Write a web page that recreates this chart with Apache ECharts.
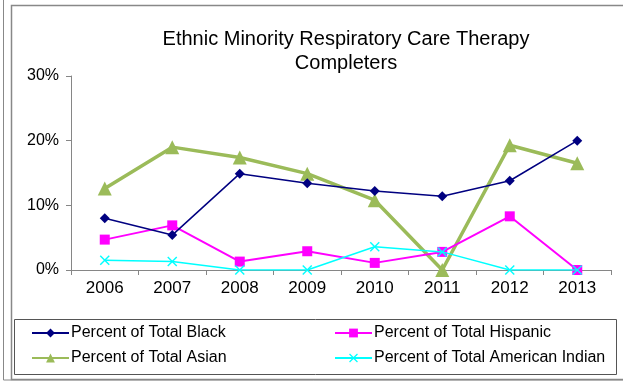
<!DOCTYPE html>
<html><head><meta charset="utf-8">
<script src="https://cdn.jsdelivr.net/npm/echarts@6/dist/echarts.min.js"></script>
<style>html,body{margin:0;padding:0;background:#fff}#c{width:623px;height:381px}</style>
</head><body><div id="c"></div>
<script>
var years = ['2006','2007','2008','2009','2010','2011','2012','2013'];
var black = [8.0, 5.4, 14.9, 13.4, 12.2, 11.4, 13.8, 20.0];
var hispanic = [4.7, 6.9, 1.3, 2.9, 1.1, 2.8, 8.3, 0];
var asian = [12.6, 19.0, 17.4, 14.9, 10.8, 0, 19.3, 16.5];
var amIndian = [1.5, 1.3, 0, 0, 3.6, 2.8, 0, 0];
var yTicks = [0, 10, 20, 30];

var FONT = '"Liberation Sans", Arial, sans-serif';
var crossPath = 'path://M0,1L1,0L5,4L9,0L10,1L6,5L10,9L9,10L5,6L1,10L0,9L4,5Z';
var legendText = {fontFamily: FONT, fontSize: 16, color: '#000', padding: [0,0,0,-3]};
var chart = echarts.init(document.getElementById('c'));
chart.setOption({
  animation: false,
  backgroundColor: '#fff',
  title: {
    text: 'Ethnic Minority Respiratory Care Therapy\nCompleters',
    left: 341, top: 22, textAlign: 'center',
    textStyle: {fontFamily: FONT, fontSize: 20, fontWeight: 'normal', color: '#000', lineHeight: 24}
  },
  graphic: [
    {type: 'rect', shape: {x: 3.5, y: -5, width: 700, height: 385}, style: {fill: 'none', stroke: '#888', lineWidth: 1}, silent: true, z: -1},
    {type: 'rect', shape: {x: 11.5, y: 5.5, width: 700, height: 374}, style: {fill: 'none', stroke: '#888', lineWidth: 1.5}, silent: true, z: -1},
    {type: 'rect', shape: {x: 14.5, y: 319.5, width: 602, height: 55}, style: {fill: 'none', stroke: '#555', lineWidth: 1}, silent: true, z: -1}
  ],
  legend: [
    {data: ['Percent of Total Black', 'Percent of Total Asian'], orient: 'vertical', left: 26, top: 320, itemGap: 9,
     itemWidth: 37, itemHeight: 11, textStyle: legendText},
    {data: ['Percent of Total Hispanic', 'Percent of Total American Indian'], orient: 'vertical', left: 329, top: 320, itemGap: 9,
     itemWidth: 37, itemHeight: 11, textStyle: legendText}
  ],
  grid: {left: 71, right: 12, top: 76, bottom: 111, containLabel: false},
  xAxis: {
    type: 'category', data: years, boundaryGap: true,
    axisLine: {lineStyle: {color: '#868686', width: 1}},
    axisTick: {show: true, alignWithLabel: false, length: 5, lineStyle: {color: '#868686'}},
    axisLabel: {fontFamily: FONT, fontSize: 17, color: '#000', margin: 10}
  },
  yAxis: {
    type: 'value', min: 0, max: 30, interval: 10,
    axisLine: {show: true, lineStyle: {color: '#868686', width: 1}},
    axisTick: {show: true, length: 5, lineStyle: {color: '#868686'}},
    splitLine: {show: false},
    axisLabel: {fontFamily: FONT, fontSize: 16, color: '#000', margin: 12,
      formatter: function (v) { return yTicks.indexOf(v) >= 0 ? v + '%' : ''; }}
  },
  series: [
    {name: 'Percent of Total Black', type: 'line', data: black, symbol: 'diamond', symbolSize: 10,
     lineStyle: {color: '#000080', width: 1.5}, itemStyle: {color: '#000080'}, z: 4},
    {name: 'Percent of Total Hispanic', type: 'line', data: hispanic, symbol: 'rect', symbolSize: 10,
     lineStyle: {color: '#FF00FF', width: 2}, itemStyle: {color: '#FF00FF'}, z: 3},
    {name: 'Percent of Total Asian', type: 'line', data: asian, symbol: 'triangle', symbolSize: 14,
     lineStyle: {color: '#9BBB59', width: 3.5}, itemStyle: {color: '#9BBB59'}, z: 2},
    {name: 'Percent of Total American Indian', type: 'line', data: amIndian, symbol: crossPath, symbolSize: 10,
     lineStyle: {color: '#00FFFF', width: 1.5}, itemStyle: {color: '#00FFFF'}, z: 5}
  ]
});
</script></body></html>
